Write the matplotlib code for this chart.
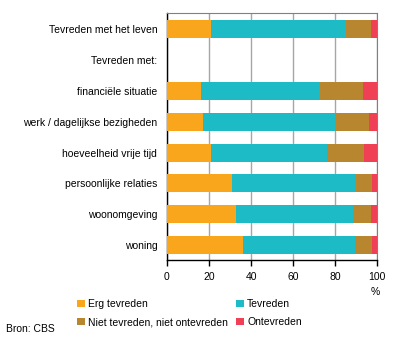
import numpy as np
import matplotlib
matplotlib.use('Agg')
import matplotlib.pyplot as plt
from matplotlib.patches import Patch

plt.rcParams['font.family'] = ['Liberation Sans', 'DejaVu Sans']

categories = ['Tevreden met het leven', 'Tevreden met:', 'financiële situatie',
              'werk / dagelijkse bezigheden', 'hoeveelheid vrije tijd',
              'persoonlijke relaties', 'woonomgeving', 'woning']
erg_tevreden = [21, np.nan, 16, 17, 21, 31, 33, 36]
tevreden = [64, np.nan, 56.7, 63.2, 55.2, 58.9, 55.7, 53.7]
niet_niet = [12, np.nan, 20.5, 16.1, 17.7, 7.8, 8.6, 7.8]
ontevreden = [3, np.nan, 6.8, 3.7, 6.3, 2.5, 3, 2.5]

series = ['Erg tevreden', 'Tevreden', 'Niet tevreden, niet ontevreden', 'Ontevreden']
colors = ['#F9A61C', '#1DBBC6', '#B8862F', '#EF4056']
fs = 7.5

fig = plt.figure(figsize=(3.96, 3.4), dpi=100)
ax = fig.add_axes([167/396, 1 - 260/340, 210/396, 247/340])

y = np.arange(len(categories))
left = np.zeros(len(categories))
for vals, c in zip([erg_tevreden, tevreden, niet_niet, ontevreden], colors):
    vals = np.array(vals, dtype=float)
    ax.barh(y, vals, left=left, height=0.58, color=c, zorder=3)
    left = left + np.nan_to_num(vals)

ax.set_xlim(0, 100)
ax.set_ylim(7.48, -0.52)
ax.set_xticks([0, 20, 40, 60, 80, 100])
ax.set_yticks(y)
ax.set_yticklabels(categories)
ax.tick_params(axis='y', length=0, pad=7, labelsize=fs)
ax.tick_params(axis='x', length=4, width=1, direction='out', pad=5, labelsize=fs)
ax.grid(axis='x', color='#A6A6A6', linewidth=1, zorder=0)

for s in ['top', 'right']:
    ax.spines[s].set_color('#808080')
for s in ['left', 'bottom']:
    ax.spines[s].set_color('black')
    ax.spines[s].set_linewidth(1)

fig.text(375/396, 1 - 292/340, '%', fontsize=fs, ha='center', va='center')

# matplotlib fills legend column-wise, so reorder to get row-wise layout
order = [0, 2, 1, 3]
handles = [Patch(facecolor=colors[i], edgecolor='none') for i in order]
labels = [series[i] for i in order]
leg = fig.legend(handles, labels, loc='upper left', bbox_to_anchor=(72/396, 1 - 294/340),
                 ncol=2, frameon=False, fontsize=fs, handlelength=0.75, handleheight=0.75,
                 handletextpad=0.3, columnspacing=0.8, labelspacing=0.75, borderpad=0)
fig.text(6/396, 1 - 329/340, 'Bron: CBS', fontsize=fs, ha='left', va='center')

fig.savefig('out.png', dpi=100)
